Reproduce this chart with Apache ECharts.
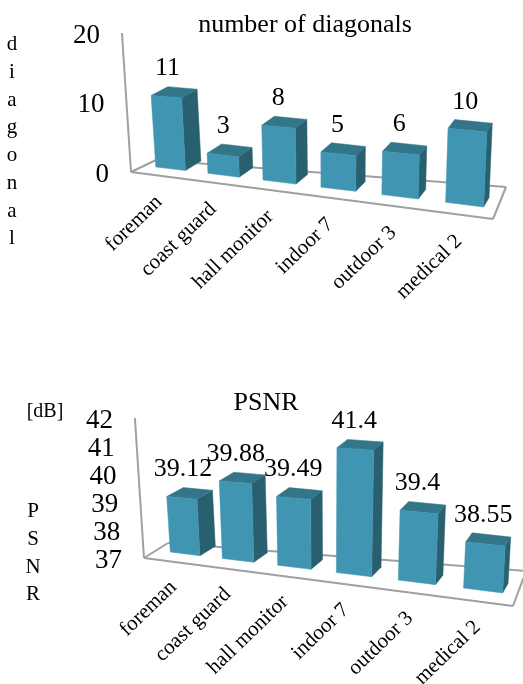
<!DOCTYPE html>
<html>
<head>
<meta charset="utf-8">
<style>
  html, body { margin: 0; padding: 0; background: #fff; }
  #main { width: 523px; height: 684px; }
</style>
</head>
<body>
<div id="main"></div>
<script src="https://cdn.jsdelivr.net/npm/echarts@6/dist/echarts.min.js"></script>
<script>
// data
const videos = ['foreman', 'coast guard', 'hall monitor', 'indoor 7', 'outdoor 3', 'medical 2'];
const diagonals = [11, 3, 8, 5, 6, 10];
const psnr = [39.12, 39.88, 39.49, 41.4, 39.4, 38.55];
const diagonalTicks = [0, 10, 20];
const psnrTicks = [37, 38, 39, 40, 41, 42];

const FONT = 'Liberation Serif';
const FRONT = '#4096b2', SIDE = '#29606f', TOP = '#337689', FRAME = '#a0a0a0';
const BAR_FRACTION = 0.576;

// the two plots are flat grids on hidden axes, the 3d look is a warp of the grid pixels.
// line: bar foot x = a + b*u + c*u^2, foot y runs along footY + slope*(x - footX)
const views = [
  {
    grid: { left: 131, top: 33, width: 362, height: 139 },
    line: [145.1, 300.6, 52.2], footX: 156, footY: 167, slope: 0.122,
    tilt: [-0.065, 0.115],
    floor: [[131, 172], [493, 219], [506, 187], [156, 160]],
    min: 0, max: 20, interval: 10
  },
  {
    grid: { left: 144, top: 418, width: 369, height: 140 },
    line: [159.7, 298.2, 59.4], footX: 170, footY: 552, slope: 0.123,
    tilt: [-0.065, 0.13],
    floor: [[144, 558], [513, 606], [526, 571], [168, 543]],
    min: 37, max: 42, interval: 1
  }
];

// u: 0..1 across the plot, h: flat pixels above the floor, d: 0 bar front, 1 bar back
function warp(view, u, h, d) {
  const x = view.line[0] + view.line[1] * u + view.line[2] * u * u;
  const y = view.footY + view.slope * (x - view.footX);
  const scale = (0.93 + 0.155 * u) * (1 - 0.01 * d);
  const tilt = view.tilt[0] + view.tilt[1] * u;
  return [x + d * (17 - 12 * u) + h * tilt, y - d * 9.5 - h * scale];
}

function poly(points, fill) {
  return { type: 'polygon', shape: { points: points }, style: { fill: fill, stroke: fill, lineWidth: 0.5 } };
}

function frameLine(a, b) {
  return {
    type: 'line',
    shape: { x1: a[0], y1: a[1], x2: b[0], y2: b[1] },
    style: { stroke: FRAME, lineWidth: 2 }
  };
}

function renderFrame(view, params) {
  const f = view.floor;
  const g = params.coordSys;
  const wallTop = [f[0][0] + view.tilt[0] * g.height, f[0][1] - g.height];
  return {
    type: 'group',
    children: [
      frameLine(f[0], wallTop),
      frameLine(f[0], f[1]),
      frameLine(f[1], f[2]),
      frameLine(f[2], f[3]),
      frameLine(f[3], f[0])
    ]
  };
}

function renderBar(view, params, api) {
  const g = params.coordSys;
  const idx = api.value(0);
  const top = api.coord([idx, api.value(1)]);
  const base = api.coord([idx, view.min]);
  const half = api.size([1, 0])[0] * BAR_FRACTION / 2;
  const u0 = (top[0] - half - g.x) / g.width;
  const u1 = (top[0] + half - g.x) / g.width;
  const h = base[1] - top[1];
  const fl = warp(view, u0, 0, 0), fr = warp(view, u1, 0, 0);
  const tl = warp(view, u0, h, 0), tr = warp(view, u1, h, 0);
  const bl = warp(view, u0, h, 1), br = warp(view, u1, h, 1);
  const sr = warp(view, u1, 0, 1);
  return {
    type: 'group',
    children: [poly([fr, sr, br, tr], SIDE), poly([tl, tr, br, bl], TOP), poly([fl, fr, tr, tl], FRONT)]
  };
}

function renderValue(view, params, api) {
  const g = params.coordSys;
  const idx = api.value(0);
  const top = api.coord([idx, api.value(1)]);
  const base = api.coord([idx, view.min]);
  const u = (top[0] - g.x) / g.width;
  const p = warp(view, u, base[1] - top[1], 0.5);
  return {
    type: 'text',
    x: p[0] - 7 + 2 * u,
    y: p[1] - 24,
    style: {
      text: String(api.value(1)), fontFamily: FONT, fontSize: 26, fill: '#000',
      align: 'center', verticalAlign: 'middle'
    }
  };
}

function renderCategory(view, params, api) {
  const g = params.coordSys;
  const idx = api.value(0);
  const u = (api.coord([idx, view.min])[0] - g.x) / g.width;
  const p = warp(view, u, 0, 0);
  return {
    type: 'text',
    x: p[0] - 12 + 7 * u,
    y: p[1] + 30 + 4 * u,
    rotation: 44 * Math.PI / 180,
    style: {
      text: videos[idx], fontFamily: FONT, fontSize: 21, fill: '#000',
      align: 'right', verticalAlign: 'middle'
    }
  };
}

function renderTick(view, params, api) {
  const g = params.coordSys;
  const y = api.coord([0, api.value(1)])[1];
  const h = g.y + g.height - y;
  return {
    type: 'text',
    x: view.floor[0][0] + view.tilt[0] * h - 22,
    y: y + 2.5,
    style: {
      text: String(api.value(1)), fontFamily: FONT, fontSize: 27, fill: '#000',
      align: 'right', verticalAlign: 'middle'
    }
  };
}

function seriesFor(i, values, ticks) {
  const view = views[i];
  const points = values.map((v, k) => [k, v]);
  const common = {
    type: 'custom', xAxisIndex: i, yAxisIndex: i, silent: true, animation: false, clip: false,
    encode: { x: 0, y: 1 }
  };
  return [
    { ...common, name: 'frame' + i, z: 1, data: [[0, view.min]], renderItem: (p, a) => renderFrame(view, p, a) },
    { ...common, name: 'bars' + i, z: 2, data: points, renderItem: (p, a) => renderBar(view, p, a) },
    { ...common, name: 'values' + i, z: 3, data: points, renderItem: (p, a) => renderValue(view, p, a) },
    { ...common, name: 'names' + i, z: 3, data: points, renderItem: (p, a) => renderCategory(view, p, a) },
    { ...common, name: 'ticks' + i, z: 3, data: ticks.map(t => [0, t]), renderItem: (p, a) => renderTick(view, p, a) }
  ];
}

function textTitle(text, x, y, size, align, lineHeight) {
  return {
    text: text, left: x, top: y, textAlign: align, padding: 0,
    textStyle: { fontFamily: FONT, fontSize: size, fontWeight: 'normal', color: '#000', lineHeight: lineHeight || size }
  };
}

const chart = echarts.init(document.getElementById('main'));
chart.setOption({
  backgroundColor: '#fff',
  title: [
    textTitle('number of diagonals', 305, 12, 26, 'center'),
    textTitle('PSNR', 266, 390, 26, 'center'),
    textTitle('[dB]', 45, 402, 20, 'center'),
    textTitle('d\ni\na\ng\no\nn\na\nl', 12, 31, 21, 'center', 27.7),
    textTitle('P\nS\nN\nR', 33, 498, 21, 'center', 27.7)
  ],
  grid: views.map(v => v.grid),
  xAxis: views.map((v, i) => ({ type: 'category', gridIndex: i, data: videos, show: false })),
  yAxis: views.map((v, i) => ({ type: 'value', gridIndex: i, min: v.min, max: v.max, interval: v.interval, show: false })),
  series: [...seriesFor(0, diagonals, diagonalTicks), ...seriesFor(1, psnr, psnrTicks)]
});
</script>
</body>
</html>
